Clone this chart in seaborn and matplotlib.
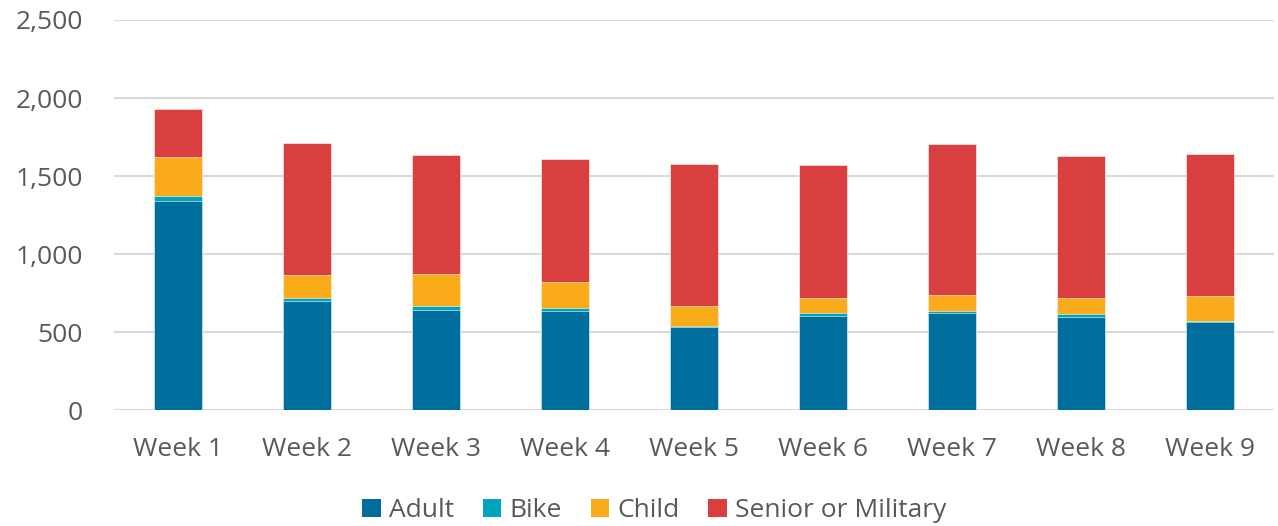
import pandas as pd
import numpy as np
import matplotlib
matplotlib.use("Agg")
import matplotlib.pyplot as plt
import seaborn as sns
from matplotlib.patches import Patch
from matplotlib.ticker import FuncFormatter

# data
weeks = ["Week 1", "Week 2", "Week 3", "Week 4", "Week 5",
         "Week 6", "Week 7", "Week 8", "Week 9"]
adult = [1340, 697, 645, 637, 533, 605, 625, 599, 563]
bike = [30, 21, 20, 15, 4, 17, 12, 15, 6]
child = [250, 150, 205, 171, 130, 97, 99, 107, 165]
senior = [307, 842, 763, 786, 910, 851, 969, 909, 907]

labels = ["Adult", "Bike", "Child", "Senior or Military"]
colors = ["#006E9C", "#00A4B8", "#FAAB1A", "#D93F3F"]

df = pd.DataFrame({"week": weeks, "Adult": adult, "Bike": bike,
                   "Child": child, "Senior or Military": senior})
# cumulative heights so the stack can be drawn back to front
cum = df[labels].cumsum(axis=1)

sns.set_style("white")
plt.rcParams["font.family"] = ["Open Sans", "DejaVu Sans"]

fig, ax = plt.subplots(figsize=(12.78, 5.26), dpi=100)
fig.subplots_adjust(left=0.089, right=0.997, top=0.962, bottom=0.22)

for lab, col in zip(labels[::-1], colors[::-1]):
    sns.barplot(x=df["week"], y=cum[lab], color=col, width=0.37,
                saturation=1, ax=ax, edgecolor="white", linewidth=0.4,
                zorder=3)

ax.set_ylim(0, 2500)
ax.set_yticks(np.arange(0, 2501, 500))
ax.yaxis.set_major_formatter(FuncFormatter(lambda v, p: f"{int(v):,}"))
ax.set_xlim(-0.5, len(weeks) - 0.5)
ax.yaxis.grid(True, color="#D9D9D9", linewidth=1.5, zorder=0)
ax.set_axisbelow(True)
sns.despine(ax=ax, left=True, bottom=True)
ax.set_xlabel("")
ax.set_ylabel("")
ax.tick_params(axis="both", length=0, labelsize=19, labelcolor="#595959")
ax.tick_params(axis="y", pad=22)
ax.tick_params(axis="x", pad=19)

handles = [Patch(facecolor=c, edgecolor="none") for c in colors]
fig.legend(handles, labels, loc="lower center", ncol=4, frameon=False,
           bbox_to_anchor=(0.512, -0.04), fontsize=19, labelcolor="#595959",
           handlelength=0.7, handleheight=0.7, handletextpad=0.3,
           columnspacing=1.1)

fig.savefig("out.png", dpi=100)
